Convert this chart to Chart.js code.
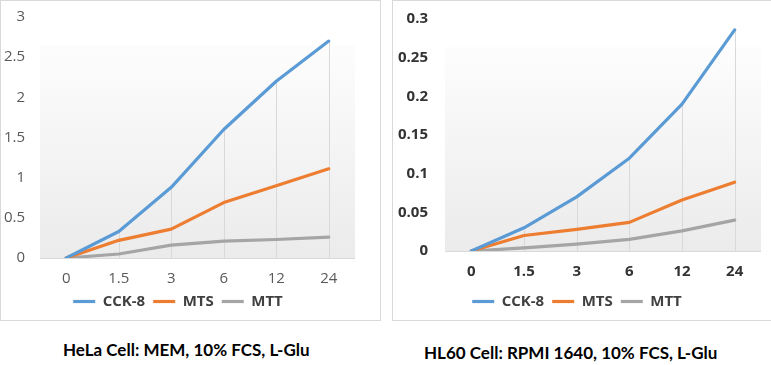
<!DOCTYPE html>
<html>
<head>
<meta charset="utf-8">
<script src="https://cdn.jsdelivr.net/npm/chart.js@4.4.1/dist/chart.umd.min.js"></script>
<style>
  body { margin: 0; background: #fff; width: 771px; height: 365px; position: relative; overflow: hidden; }
  .box { position: absolute; top: 0; border: 1px solid #d9d9d9; background: #fff; }
  .caption { position: absolute; font-family: Lato, "DejaVu Sans", sans-serif; font-weight: bold; font-size: 17px; color: #000; white-space: nowrap; }
</style>
</head>
<body>
<div class="box" style="left:0; width:379px; height:319px;"><canvas id="helaChart" width="379" height="319"></canvas></div>
<div class="box" style="left:392px; width:380px; height:319px;"><canvas id="hl60Chart" width="380" height="319"></canvas></div>
<div class="caption" id="helaCaption" style="left:63px; top:339px;">HeLa Cell: MEM, 10% FCS, L-Glu</div>
<div class="caption" id="hl60Caption" style="left:424px; top:342px;">HL60 Cell: RPMI 1640, 10% FCS, L-Glu</div>
<script>
// 시간 (h)
const hours = ["0", "1.5", "3", "6", "12", "24"];
const seriesNames = ["CCK-8", "MTS", "MTT"];
const seriesColors = ["#5b9bd5", "#ed7d31", "#a5a5a5"];

// HeLa
const helaCck8 = [0, 0.33, 0.88, 1.6, 2.2, 2.7];
const helaMts = [0, 0.22, 0.36, 0.69, 0.9, 1.11];
const helaMtt = [0, 0.05, 0.16, 0.21, 0.23, 0.26];

// HL60
const hl60Cck8 = [0, 0.03, 0.07, 0.12, 0.19, 0.286];
const hl60Mts = [0, 0.02, 0.028, 0.037, 0.066, 0.089];
const hl60Mtt = [0, 0.004, 0.009, 0.015, 0.026, 0.04];

// plot area background + drop lines (Excel style)
const plotDecor = {
    id: "plotDecor",
    beforeDatasetsDraw(chart) {
        const ctx = chart.ctx;
        const area = chart.chartArea;
        const y = chart.scales.y;
        const base = y.getPixelForValue(0);
        const top = area.top + 28;
        const grad = ctx.createLinearGradient(0, top, 0, base);
        grad.addColorStop(0, "#fdfdfd");
        grad.addColorStop(1, "#ebebeb");
        ctx.save();
        ctx.fillStyle = grad;
        ctx.fillRect(area.left, top, area.right - area.left, base - top);

        ctx.strokeStyle = "#d9d9d9";
        ctx.lineWidth = 1;
        chart.data.labels.forEach((label, i) => {
            if (i === 0) return;
            let minY = base;
            chart.data.datasets.forEach((ds, d) => {
                const pt = chart.getDatasetMeta(d).data[i];
                if (pt && pt.y < minY) minY = pt.y;
            });
            const x = Math.round(chart.scales.x.getPixelForValue(i)) + 0.5;
            ctx.beginPath();
            ctx.moveTo(x, minY);
            ctx.lineTo(x, base);
            ctx.stroke();
        });
        ctx.beginPath();
        ctx.moveTo(area.left, Math.round(base) + 0.5);
        ctx.lineTo(area.right, Math.round(base) + 0.5);
        ctx.stroke();
        ctx.restore();
    }
};

function drawChart(canvasId, values, yMax, yStep, opts) {
    const ctx = document.getElementById(canvasId).getContext("2d");
    const datasets = values.map((data, i) => ({
        label: seriesNames[i],
        data: data,
        borderColor: seriesColors[i],
        backgroundColor: seriesColors[i],
        borderWidth: 3.2,
        borderCapStyle: "round",
        borderJoinStyle: "round",
        pointRadius: 0,
        tension: 0,
        fill: false
    }));

    const tickFont = { family: "'Open Sans', sans-serif", size: 15, weight: opts.weight };

    new Chart(ctx, {
        type: "line",
        data: { labels: hours, datasets: datasets },
        plugins: [plotDecor],
        options: {
            responsive: false,
            animation: false,
            devicePixelRatio: 1,
            layout: { padding: { top: opts.top, right: opts.right, left: 0, bottom: 1 } },
            plugins: {
                tooltip: { enabled: false },
                legend: {
                    position: "bottom",
                    labels: {
                        usePointStyle: true,
                        pointStyle: "line",
                        pointStyleWidth: 22,
                        padding: 8,
                        color: opts.legendColor,
                        font: { family: "'Open Sans', sans-serif", size: 15, weight: "bold" }
                    }
                }
            },
            scales: {
                x: {
                    offset: true,
                    grid: { display: false },
                    border: { display: false },
                    ticks: { color: opts.tickColor, font: tickFont, padding: opts.xPad, maxRotation: 0 },
                    afterFit: s => { s.height = opts.xHeight; }
                },
                y: {
                    min: 0,
                    max: yMax,
                    grid: { display: false },
                    border: { display: false },
                    ticks: {
                        stepSize: yStep,
                        color: opts.tickColor,
                        font: tickFont,
                        padding: opts.yPad,
                        callback: v => String(+v.toFixed(2))
                    },
                    afterFit: s => { s.width = opts.yWidth; }
                }
            }
        }
    });
}

drawChart("helaChart", [helaCck8, helaMts, helaMtt], 3, 0.5,
    { top: 10, right: 25, yWidth: 39, yPad: 7, xHeight: 28, xPad: 4,
      weight: "normal", tickColor: "#595959", legendColor: "#404040" });
drawChart("hl60Chart", [hl60Cck8, hl60Mts, hl60Mtt], 0.3, 0.05,
    { top: 4, right: 12, yWidth: 52, yPad: 9, xHeight: 35, xPad: 4,
      weight: "bold", tickColor: "#333333", legendColor: "#404040" });
</script>
</body>
</html>
